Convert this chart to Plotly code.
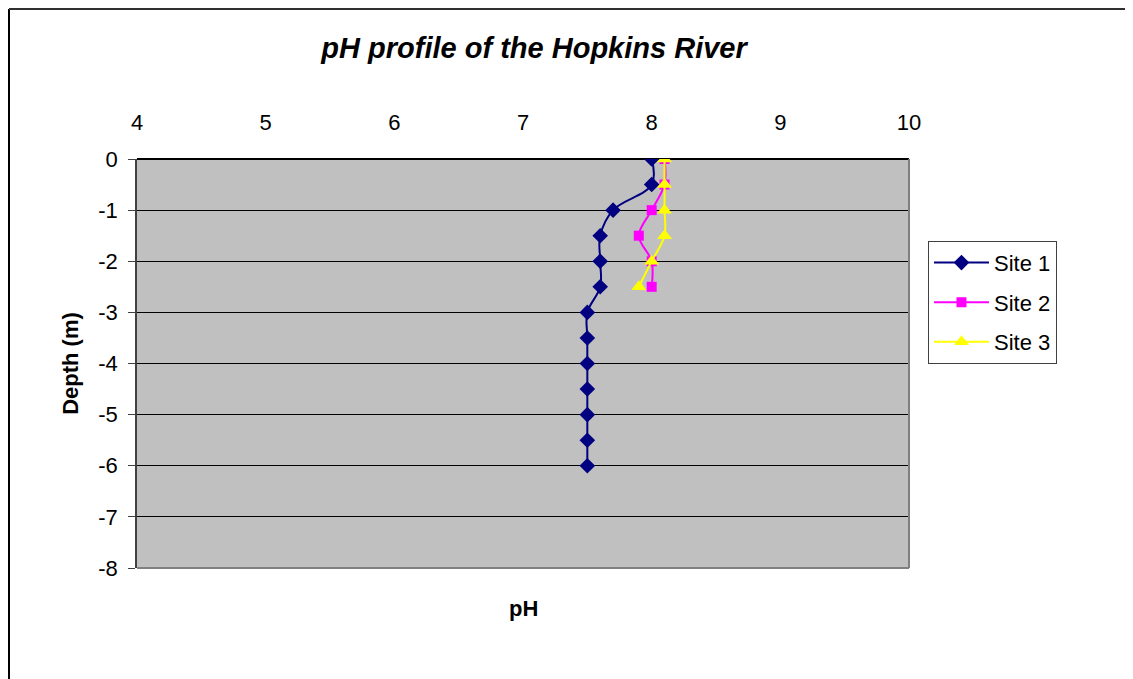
import plotly.graph_objects as go

depth1 = [0, -0.5, -1, -1.5, -2, -2.5, -3, -3.5, -4, -4.5, -5, -5.5, -6]
ph1 = [8.0, 8.0, 7.7, 7.6, 7.6, 7.6, 7.5, 7.5, 7.5, 7.5, 7.5, 7.5, 7.5]

depth2 = [0, -0.5, -1, -1.5, -2, -2.5]
ph2 = [8.1, 8.1, 8.0, 7.9, 8.0, 8.0]

depth3 = [0, -0.5, -1, -1.5, -2, -2.5]
ph3 = [8.1, 8.1, 8.1, 8.1, 8.0, 7.9]

y_ticks = [0, -1, -2, -3, -4, -5, -6, -7, -8]
y_labels = ["0", "-1", "-2", "-3", "-4", "-5", "-6", "-7", "-8"]

FONT = "Liberation Sans, Arial, sans-serif"

fig = go.Figure()

fig.add_trace(go.Scatter(
    x=ph1, y=depth1, name='Site 1', mode='lines+markers',
    line=dict(color='#000080', width=2, shape='spline', smoothing=1.1),
    marker=dict(symbol='diamond', size=12, color='#000080'),
    legendgroup='1'
))
fig.add_trace(go.Scatter(
    x=ph2, y=depth2, name='Site 2', mode='lines+markers',
    line=dict(color='#FF00FF', width=2, shape='spline'),
    marker=dict(symbol='square', size=10, color='#FF00FF'),
    legendgroup='2'
))
fig.add_trace(go.Scatter(
    x=ph3, y=depth3, name='Site 3', mode='lines+markers',
    line=dict(color='#FFFF00', width=2, shape='spline'),
    marker=dict(symbol='triangle-up', size=13, color='#FFFF00'),
    legendgroup='3'
))

# page has an 8px body margin, so the figure is shifted by 8px
fig.update_layout(
    width=1125, height=671,
    margin=dict(l=129, r=224, t=151, b=111),
    paper_bgcolor='white',
    plot_bgcolor='#C0C0C0',
    font=dict(family=FONT, size=22, color='black'),
    title=dict(text='<b><i>pH profile of the Hopkins River</i></b>',
               x=0.4676, xref='container', xanchor='center',
               y=0.9404, yref='container', yanchor='middle',
               font=dict(size=29, family=FONT)),
    xaxis=dict(range=[4, 10], dtick=1, side='top', showgrid=False,
               zeroline=False, showline=False, ticks='',
               ticklabelstandoff=24, fixedrange=True),
    yaxis=dict(range=[-8, 0], tickvals=y_ticks, ticktext=y_labels,
               showgrid=True, gridcolor='black',
               gridwidth=1, zeroline=True, zerolinecolor='black',
               showline=True, linecolor='#404040', linewidth=1.5,
               ticks='outside', ticklen=7, tickcolor='#404040',
               ticklabelstandoff=6,
               title=dict(text='<b>Depth (m)</b>', font=dict(size=22),
                          standoff=14)),
    legend=dict(x=1.0246, y=0.8, xanchor='left', yanchor='top',
                bordercolor='#404040', borderwidth=1, bgcolor='white',
                font=dict(size=22), tracegroupgap=8, itemwidth=55),
    showlegend=True,
    annotations=[dict(text='<b>pH</b>', x=0.5, y=-0.098, xref='paper',
                      yref='paper', showarrow=False, font=dict(size=22),
                      xanchor='center', yanchor='middle')],
    shapes=[
        dict(type='line', xref='paper', yref='paper', x0=1, x1=1, y0=0, y1=1,
             line=dict(color='#808080', width=2)),
        dict(type='line', xref='paper', yref='paper', x0=0, x1=1, y0=0, y1=0,
             line=dict(color='#808080', width=2)),
        dict(type='line', xref='paper', yref='paper', x0=-0.1658, x1=-0.1658,
             y0=-0.3, y1=1.367, line=dict(color='black', width=2)),
        dict(type='line', xref='paper', yref='paper', x0=-0.1658, x1=1.3,
             y0=1.367, y1=1.367, line=dict(color='#303030', width=2)),
    ],
)

fig.write_html("out.html")
